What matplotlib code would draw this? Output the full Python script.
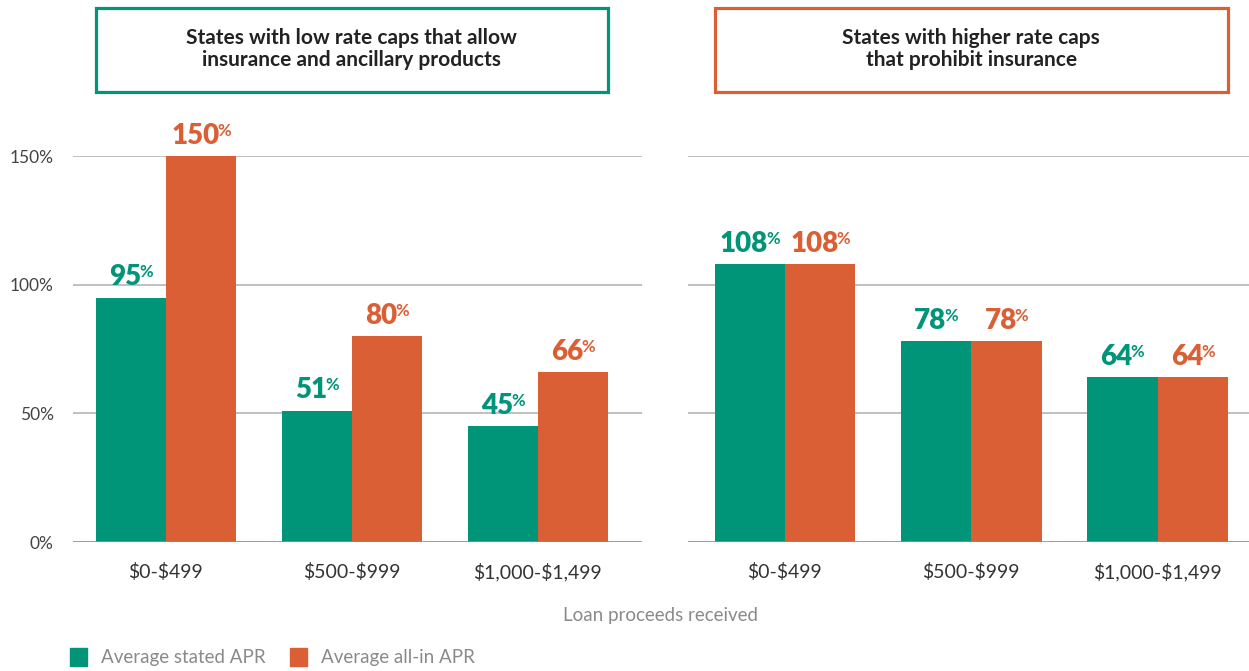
import matplotlib.pyplot as plt
from matplotlib.patches import Rectangle, Patch
from matplotlib.transforms import blended_transform_factory, IdentityTransform
import numpy as np

plt.rcParams['font.family'] = ['Lato', 'DejaVu Sans']

# APR by loan size, two groups of states
bins = [r"\$0-\$499", r"\$500-\$999", r"\$1,000-\$1,499"]
low_stated = [95, 51, 45]
low_allin = [150, 80, 66]
high_stated = [108, 78, 64]
high_allin = [108, 78, 64]

titles = ["States with low rate caps that allow\ninsurance and ancillary products",
          "States with higher rate caps\nthat prohibit insurance"]
yticks = [0, 50, 100, 150]

GREEN = "#009479"
ORANGE = "#DB5F35"
W = 0.377

fig = plt.figure(figsize=(12.49, 6.71), dpi=100)
ax1 = fig.add_axes([73/1249, 0.192, 569/1249, 0.5753])
ax2 = fig.add_axes([688/1249, 0.192, 561/1249, 0.5753])

x = np.arange(len(bins))
labels = []

for ax, stated, allin, title, edge, xlim in [
        (ax1, low_stated, low_allin, titles[0], GREEN, (-0.5, 2.56)),
        (ax2, high_stated, high_allin, titles[1], ORANGE, (-0.52, 2.49))]:
    ax.bar(x - W/2, stated, W, color=GREEN, zorder=2)
    ax.bar(x + W/2, allin, W, color=ORANGE, zorder=2)
    for v in yticks[1:]:
        ax.axhline(v, color="#b5b5b5", lw=1.2, zorder=0)
    ax.axhline(0, color="#8c8c8c", lw=1.2, zorder=3)
    ax.set_xlim(*xlim)
    ax.set_ylim(0, 150)
    for s in ax.spines.values():
        s.set_visible(False)
    ax.set_xticks(x, bins)
    ax.tick_params(axis="x", length=0, pad=15, labelsize=14, labelcolor="#333333")
    ax.set_yticks(yticks, [f"{v}%" for v in yticks])
    ax.tick_params(axis="y", length=0, pad=14, labelsize=12.5, labelcolor="#444444")
    if ax is ax2:
        ax.tick_params(axis="y", labelleft=False)

    # boxed panel heading
    tr = blended_transform_factory(ax.transData, fig.transFigure)
    ax.add_patch(Rectangle((-W, 1 - 92/671), 2*W + 2, 84/671, transform=tr,
                           fill=False, edgecolor=edge, lw=2.3, clip_on=False))
    ax.text(1, 1 - 49/671, title, transform=tr, ha="center", va="center",
            fontsize=15, fontweight="bold", color="#222222", linespacing=1.15)

    for xs, vals, c in [(x - W/2, stated, GREEN), (x + W/2, allin, ORANGE)]:
        for xi, v in zip(xs, vals):
            t = ax.annotate(f"{v}", xy=(xi, v), xytext=(0, 9), textcoords="offset points",
                            ha="center", va="baseline", fontsize=20, fontweight="heavy",
                            color=c, annotation_clip=False)
            labels.append((t, c, ax, xi, v))

# attach a small superscript % to each value label, centering the pair
fig.canvas.draw()
r = fig.canvas.get_renderer()
for t, c, ax, xi, v in labels:
    ext = t.get_window_extent(r)
    p = fig.text(0, 0, "%", transform=IdentityTransform(), ha="left", va="top",
                 fontsize=12, fontweight="bold", color=c)
    pw = p.get_window_extent(r).width
    shift = -(pw - 2) / 2
    t.xyann = (shift * 72 / fig.dpi, 9)
    base_y = ax.transData.transform((xi, v))[1] + 9 * fig.dpi / 72
    p.set_position((ext.x1 - 2 + shift, base_y + 21))

fig.text(661/1249, 1 - 616/671, "Loan proceeds received", ha="center", va="center",
         fontsize=13.5, color="#8a8a8a")

handles = [Patch(color=GREEN), Patch(color=ORANGE)]
fig.legend(handles, ["Average stated APR", "Average all-in APR"], loc="center left",
           bbox_to_anchor=(70/1249, 1 - 657/671), ncol=2, frameon=False, fontsize=13.5,
           handlelength=0.9, handleheight=1.1, handletextpad=0.75, columnspacing=1.3,
           labelcolor="#8a8a8a", borderaxespad=0, borderpad=0)

fig.savefig("out.png", dpi=100)
